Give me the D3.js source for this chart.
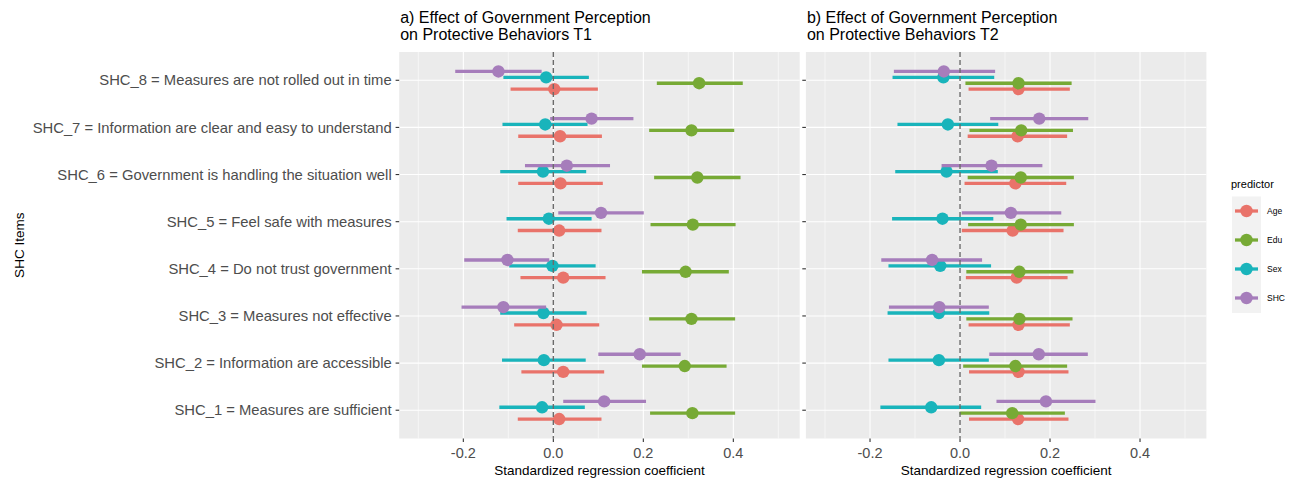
<!DOCTYPE html>
<html>
<head>
  <meta charset='utf-8'>
  <title>Government Perception</title>
  <script src="https://cdnjs.cloudflare.com/ajax/libs/d3/7.8.5/d3.min.js"></script>
  <style>
    body { margin: 0; background: white; }
    text { font-family: 'Liberation Sans', Arial, sans-serif; }
    .tick-y { fill: #4d4d4d; font-size: 14.8px; text-anchor: end; }
    .tick-x { fill: #4d4d4d; font-size: 14.5px; text-anchor: middle; }
    .ttl { fill: #000; font-size: 16px; }
    .axttl { fill: #000; font-size: 13.5px; text-anchor: middle; }
  </style>
</head>
<body>
  <svg width="1297" height="480" id="chart"></svg>
  <script>
    // items, bottom to top
    const items = [
      "SHC_1 = Measures are sufficient",
      "SHC_2 = Information are accessible",
      "SHC_3 = Measures not effective",
      "SHC_4 = Do not trust government",
      "SHC_5 = Feel safe with measures",
      "SHC_6 = Government is handling the situation well",
      "SHC_7 = Information are clear and easy to understand",
      "SHC_8 = Measures are not rolled out in time"
    ];
    const predictors = ["Age", "Edu", "Sex", "SHC"];
    const colors = ["#e9736a", "#77aa35", "#19b4bb", "#a67dbb"];
    const xTicks = [-0.2, 0, 0.2, 0.4];
    const xMinor = [-0.3, -0.1, 0.1, 0.3, 0.5];

    // [estimate, low, high] per item, SHC_1 ... SHC_8
    const t1Age = [[0.013,-0.079,0.107],[0.022,-0.071,0.113],[0.007,-0.087,0.102],[0.022,-0.073,0.116],
                   [0.013,-0.079,0.107],[0.016,-0.078,0.110],[0.015,-0.078,0.108],[0.002,-0.095,0.099]];
    const t1Edu = [[0.309,0.215,0.404],[0.292,0.197,0.385],[0.307,0.213,0.404],[0.294,0.197,0.390],
                   [0.310,0.216,0.405],[0.320,0.224,0.416],[0.307,0.213,0.402],[0.324,0.230,0.421]];
    const t1Sex = [[-0.025,-0.120,0.070],[-0.021,-0.114,0.072],[-0.022,-0.118,0.074],[-0.002,-0.098,0.094],
                   [-0.010,-0.104,0.085],[-0.023,-0.118,0.073],[-0.018,-0.113,0.076],[-0.016,-0.111,0.079]];
    const t1Shc = [[0.113,0.022,0.206],[0.192,0.100,0.283],[-0.111,-0.204,-0.016],[-0.102,-0.198,-0.009],
                   [0.106,0.011,0.201],[0.030,-0.063,0.126],[0.085,-0.007,0.178],[-0.122,-0.218,-0.026]];

    const t2Age = [[0.129,0.020,0.241],[0.130,0.020,0.241],[0.130,0.019,0.244],[0.126,0.013,0.239],
                   [0.117,0.004,0.230],[0.123,0.010,0.236],[0.128,0.017,0.238],[0.130,0.019,0.244]];
    const t2Edu = [[0.116,-0.001,0.233],[0.123,0.007,0.238],[0.132,0.014,0.250],[0.132,0.014,0.252],
                   [0.135,0.018,0.253],[0.135,0.017,0.253],[0.136,0.021,0.251],[0.130,0.012,0.248]];
    const t2Sex = [[-0.064,-0.177,0.047],[-0.047,-0.159,0.064],[-0.047,-0.161,0.065],[-0.044,-0.159,0.069],
                   [-0.039,-0.151,0.074],[-0.030,-0.144,0.084],[-0.027,-0.139,0.085],[-0.037,-0.150,0.076]];
    const t2Shc = [[0.191,0.081,0.301],[0.175,0.065,0.284],[-0.046,-0.158,0.064],[-0.062,-0.175,0.049],
                   [0.113,0.004,0.225],[0.070,-0.041,0.183],[0.176,0.067,0.285],[-0.036,-0.147,0.078]];

    const panels = [
      { title: ["a) Effect of Government Perception", "on Protective Behaviors T1"], left: 399.2,
        series: [t1Age, t1Edu, t1Sex, t1Shc] },
      { title: ["b) Effect of Government Perception", "on Protective Behaviors T2"], left: 805.9,
        series: [t2Age, t2Edu, t2Sex, t2Shc] }
    ];

    const svg = d3.select('#chart');
    const plotTop = 52, plotBottom = 438.5, panelW = 400.5;

    const y = d3.scalePoint()
      .domain(items.slice().reverse())
      .range([plotTop, plotBottom])
      .padding(0.6);

    const dodge = d3.scalePoint()
      .domain(["SHC", "Sex", "Edu", "Age"])
      .range([-0.25 * y.step(), 0.25 * y.step()])
      .padding(0.5);

    const color = d3.scaleOrdinal().domain(predictors).range(colors);
    const fmt = d => d3.format('.1f')(d).replace('\u2212', '-');

    panels.forEach((p, pi) => {
      const x = d3.scaleLinear().domain([-0.3425, 0.5475]).range([p.left, p.left + panelW]);
      const g = svg.append('g');

      g.append('rect')
        .attr('x', p.left).attr('y', plotTop)
        .attr('width', panelW).attr('height', plotBottom - plotTop)
        .attr('fill', '#ebebeb');

      g.selectAll('.minor').data(xMinor).join('line')
        .attr('x1', d => x(d)).attr('x2', d => x(d))
        .attr('y1', plotTop).attr('y2', plotBottom)
        .attr('stroke', 'white').attr('stroke-width', 0.55);

      g.selectAll('.major').data(xTicks).join('line')
        .attr('x1', d => x(d)).attr('x2', d => x(d))
        .attr('y1', plotTop).attr('y2', plotBottom)
        .attr('stroke', 'white').attr('stroke-width', 1.1);

      g.selectAll('.hgrid').data(items).join('line')
        .attr('x1', p.left).attr('x2', p.left + panelW)
        .attr('y1', d => y(d)).attr('y2', d => y(d))
        .attr('stroke', 'white').attr('stroke-width', 1.1);

      // point ranges
      predictors.forEach((pr, k) => {
        const rows = p.series[k].map((v, i) => ({ item: items[i], est: v[0], lo: v[1], hi: v[2] }));
        const yy = d => y(d.item) + dodge(pr);
        g.append('g').selectAll('line').data(rows).join('line')
          .attr('x1', d => x(d.lo)).attr('x2', d => x(d.hi))
          .attr('y1', yy).attr('y2', yy)
          .attr('stroke', color(pr)).attr('stroke-width', 3.3);
        g.append('g').selectAll('circle').data(rows).join('circle')
          .attr('cx', d => x(d.est)).attr('cy', yy)
          .attr('r', 6.2)
          .attr('fill', color(pr));
      });

      // zero line
      g.append('line')
        .attr('x1', x(0)).attr('x2', x(0))
        .attr('y1', plotTop).attr('y2', plotBottom)
        .attr('stroke', '#6b6b6b').attr('stroke-width', 1.4)
        .attr('stroke-dasharray', '5,3');

      // x axis
      g.selectAll('.xt').data(xTicks).join('line')
        .attr('x1', d => x(d)).attr('x2', d => x(d))
        .attr('y1', plotBottom).attr('y2', plotBottom + 3.6)
        .attr('stroke', '#333').attr('stroke-width', 1.1);
      g.selectAll('.xl').data(xTicks).join('text')
        .attr('class', 'tick-x')
        .attr('x', d => x(d)).attr('y', plotBottom + 19.5)
        .text(fmt);
      g.append('text').attr('class', 'axttl')
        .attr('x', p.left + panelW / 2).attr('y', 474.5)
        .text('Standardized regression coefficient');

      // titles
      g.selectAll('.ttl').data(p.title).join('text')
        .attr('class', 'ttl')
        .attr('x', p.left + 1).attr('y', (d, i) => 22.5 + i * 17)
        .text(d => d);

      // y axis ticks
      g.selectAll('.yt').data(items).join('line')
        .attr('x1', p.left - 3.6).attr('x2', p.left)
        .attr('y1', d => y(d)).attr('y2', d => y(d))
        .attr('stroke', '#333').attr('stroke-width', 1.1);

      if (pi === 0) {
        g.selectAll('.yl').data(items).join('text')
          .attr('class', 'tick-y')
          .attr('x', p.left - 7.5).attr('y', d => y(d) + 5.2)
          .text(d => d);
      }
    });

    svg.append('text')
      .attr('transform', `translate(24, ${(plotTop + plotBottom) / 2}) rotate(-90)`)
      .attr('text-anchor', 'middle')
      .attr('font-size', 13.5)
      .text('SHC Items');

    // legend
    const leg = svg.append('g').attr('transform', 'translate(1231, 0)');
    leg.append('text').attr('x', 0).attr('y', 188).attr('font-size', 11).text('predictor');
    leg.append('rect')
      .attr('x', 1).attr('y', 196.5).attr('width', 29).attr('height', 116.5)
      .attr('fill', '#f2f2f2');
    const keys = leg.selectAll('.key').data(predictors).join('g')
      .attr('transform', (d, i) => `translate(0, ${211 + i * 29})`);
    keys.append('line')
      .attr('x1', 4).attr('x2', 27).attr('y1', 0).attr('y2', 0)
      .attr('stroke', d => color(d)).attr('stroke-width', 3.3);
    keys.append('circle')
      .attr('cx', 15.5).attr('cy', 0).attr('r', 6.2)
      .attr('fill', d => color(d));
    keys.append('text')
      .attr('x', 36).attr('y', 3.2)
      .attr('font-size', 8.5)
      .text(d => d);
  </script>
</body>
</html>
